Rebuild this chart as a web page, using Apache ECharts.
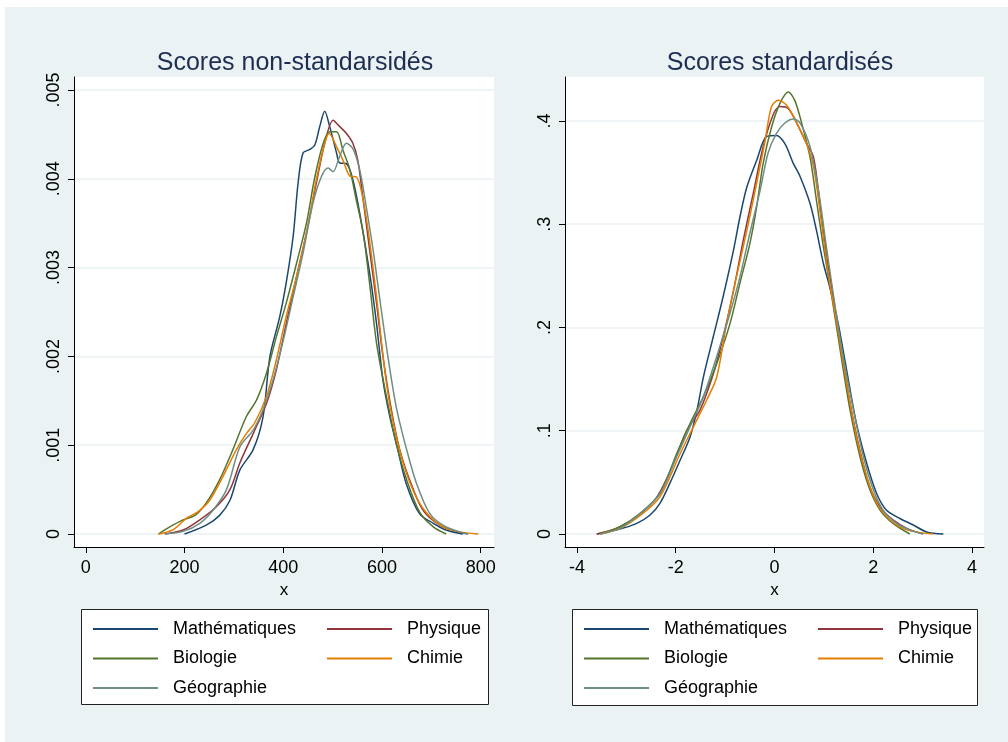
<!DOCTYPE html>
<html>
<head>
<meta charset="utf-8">
<script src="https://cdn.jsdelivr.net/npm/echarts@6/dist/echarts.min.js"></script>
<style>
html, body { margin: 0; padding: 0; }
#chart { width: 1008px; height: 742px; }
</style>
</head>
<body>
<div id="chart"></div>
<script>
(function(){
    var names = ['Mathématiques', 'Physique', 'Biologie', 'Chimie', 'Géographie'];
    var colors = ['#1a476f', '#90353b', '#55752f', '#e37e00', '#6e8e84'];

    // scores bruts (densité)
    var rawMath = [[200,0],[244,0.0001],[271,0.00021],[292,0.00038],[312,0.00072],[339,0.00095],[359,0.00132],[373,0.002],[393,0.00245],[406,0.00283],[420,0.00335],[430,0.00395],[440,0.00429],[454,0.00433],[464,0.00438],[474,0.00459],[484,0.00476],[494,0.00459],[508,0.00429],[514,0.00418],[528,0.00417],[541,0.00399],[555,0.00361],[575,0.00294],[589,0.00237],[602,0.00173],[616,0.00132],[632,0.00095],[649,0.00057],[676,0.00023],[704,0.00012],[730,0.000045],[764,0]];
    var rawPhys = [[160,0],[197,0.000045],[231,0.00016],[265,0.00031],[292,0.0005],[312,0.0008],[339,0.00113],[366,0.00147],[386,0.00185],[406,0.00237],[427,0.0029],[447,0.00339],[467,0.00395],[484,0.0044],[501,0.00466],[514,0.00459],[528,0.00451],[541,0.0044],[551,0.00421],[562,0.00376],[575,0.0032],[589,0.0026],[602,0.002],[619,0.0014],[636,0.00095],[656,0.00061],[683,0.00027],[717,0.0001],[751,0.00003],[774,0]];
    var rawBio = [[147,0],[170,0.00008],[197,0.00016],[221,0.00021],[244,0.00035],[271,0.00061],[298,0.00095],[325,0.00132],[346,0.00151],[366,0.00181],[386,0.00222],[406,0.0026],[427,0.00305],[447,0.0035],[464,0.00402],[481,0.0044],[494,0.00453],[508,0.00453],[521,0.00432],[535,0.0041],[548,0.00376],[562,0.00339],[575,0.00282],[589,0.00215],[609,0.00155],[629,0.00102],[650,0.00061],[676,0.00025],[704,0.00008],[730,0]];
    var rawChim = [[147,0],[177,0.00005],[204,0.00018],[227,0.00025],[251,0.00038],[278,0.00065],[305,0.00095],[325,0.00113],[342,0.00125],[366,0.00155],[386,0.00196],[406,0.00245],[427,0.0029],[447,0.00339],[467,0.00399],[484,0.0044],[493,0.00451],[508,0.00436],[521,0.00421],[535,0.00403],[548,0.00402],[558,0.00387],[572,0.00342],[589,0.00267],[609,0.0017],[629,0.0011],[650,0.00068],[676,0.00035],[704,0.00016],[737,0.00005],[795,0]];
    var rawGeo = [[160,0],[197,0.00003],[231,0.00012],[258,0.00027],[285,0.0005],[312,0.00098],[339,0.00117],[359,0.0014],[379,0.00173],[400,0.00218],[420,0.00267],[440,0.00316],[460,0.00372],[477,0.00402],[491,0.00412],[501,0.00408],[514,0.00425],[528,0.0044],[541,0.00434],[555,0.0041],[568,0.00369],[582,0.0032],[595,0.00267],[612,0.002],[629,0.00143],[650,0.00095],[670,0.00057],[697,0.00023],[730,0.00008],[774,0]];

    // scores standardisés (densité)
    var stdMath = [[-3.6,0],[-3.19,0.004],[-2.79,0.0103],[-2.52,0.0184],[-2.32,0.0297],[-2.12,0.049],[-1.91,0.0716],[-1.71,0.094],[-1.57,0.12],[-1.44,0.152],[-1.24,0.191],[-1.04,0.23],[-0.83,0.275],[-0.7,0.307],[-0.56,0.336],[-0.36,0.362],[-0.16,0.385],[0.04,0.386],[0.21,0.378],[0.38,0.359],[0.52,0.346],[0.72,0.32],[0.85,0.294],[0.99,0.262],[1.12,0.239],[1.29,0.204],[1.46,0.159],[1.66,0.107],[1.87,0.068],[2.07,0.039],[2.27,0.023],[2.54,0.015],[2.81,0.0087],[3.08,0.002],[3.42,0]];
    var stdPhys = [[-3.6,0],[-3.19,0.0055],[-2.79,0.0168],[-2.38,0.036],[-2.05,0.068],[-1.78,0.1],[-1.51,0.12],[-1.24,0.155],[-1.04,0.191],[-0.83,0.236],[-0.63,0.285],[-0.43,0.33],[-0.23,0.375],[-0.02,0.407],[0.11,0.414],[0.28,0.412],[0.45,0.398],[0.65,0.378],[0.79,0.365],[0.92,0.32],[1.06,0.268],[1.19,0.23],[1.33,0.185],[1.53,0.127],[1.73,0.081],[1.93,0.046],[2.14,0.026],[2.4,0.0136],[2.68,0.0055],[3.01,0]];
    var stdBio = [[-3.53,0],[-3.13,0.007],[-2.72,0.02],[-2.32,0.039],[-1.98,0.078],[-1.71,0.107],[-1.44,0.133],[-1.17,0.165],[-0.9,0.204],[-0.7,0.243],[-0.5,0.281],[-0.36,0.317],[-0.23,0.359],[-0.06,0.394],[0.11,0.417],[0.28,0.428],[0.41,0.42],[0.55,0.398],[0.72,0.365],[0.85,0.323],[0.99,0.278],[1.16,0.23],[1.33,0.178],[1.53,0.12],[1.73,0.075],[1.93,0.043],[2.14,0.023],[2.4,0.0103],[2.74,0]];
    var stdChim = [[-3.53,0],[-3.13,0.0055],[-2.72,0.018],[-2.32,0.036],[-1.91,0.078],[-1.64,0.104],[-1.37,0.13],[-1.17,0.152],[-0.97,0.204],[-0.77,0.249],[-0.56,0.294],[-0.36,0.34],[-0.19,0.381],[-0.06,0.414],[0.08,0.42],[0.25,0.415],[0.45,0.398],[0.65,0.378],[0.79,0.356],[0.92,0.313],[1.09,0.252],[1.26,0.204],[1.46,0.146],[1.66,0.094],[1.87,0.055],[2.07,0.03],[2.34,0.0136],[2.68,0.004],[3.21,0]];
    var stdGeo = [[-3.53,0],[-3.13,0.0055],[-2.72,0.02],[-2.32,0.039],[-1.98,0.075],[-1.71,0.104],[-1.44,0.133],[-1.17,0.172],[-0.9,0.214],[-0.7,0.249],[-0.5,0.291],[-0.29,0.333],[-0.13,0.369],[0.04,0.388],[0.21,0.398],[0.38,0.402],[0.52,0.398],[0.72,0.375],[0.89,0.333],[1.06,0.275],[1.22,0.223],[1.39,0.172],[1.6,0.12],[1.8,0.075],[2.0,0.043],[2.2,0.023],[2.47,0.0103],[2.74,0.004],[3.01,0]];

    var rawXTicks = [0, 200, 400, 600, 800];
    var rawYTicks = [0, 0.001, 0.002, 0.003, 0.004, 0.005];
    var stdXTicks = [-4, -2, 0, 2, 4];
    var stdYTicks = [0, 0.1, 0.2, 0.3, 0.4];

    var rawData = [rawMath, rawPhys, rawBio, rawChim, rawGeo];
    var stdData = [stdMath, stdPhys, stdBio, stdChim, stdGeo];

    var font = 'Liberation Sans, Arial, sans-serif';
    var gridBg = '#eaf2f3';

    function noZero(v){
        if (v === 0) return '0';
        return String(v).replace(/^(-?)0\./, '$1.');
    }

    function xAxisOf(idx, min, max, ticks){
        return {
            type: 'value', gridIndex: idx, min: min, max: max,
            name: 'x', nameLocation: 'middle', nameGap: 32,
            nameTextStyle: { color: '#000', fontSize: 17, fontFamily: font },
            axisLine: { show: true, onZero: false, lineStyle: { color: '#000', width: 1 } },
            axisTick: { show: true, length: 6, customValues: ticks, lineStyle: { color: '#000' } },
            axisLabel: { customValues: ticks, color: '#000', fontSize: 18, fontFamily: font, margin: 12 },
            splitLine: { show: false }
        };
    }
    function yAxisOf(idx, min, max, ticks){
        return {
            type: 'value', gridIndex: idx, min: min, max: max,
            axisLine: { show: true, onZero: false, lineStyle: { color: '#000', width: 1 } },
            axisTick: { show: true, length: 6, customValues: ticks, lineStyle: { color: '#000' } },
            axisLabel: { customValues: ticks, rotate: 90, color: '#000', fontSize: 18, fontFamily: font, margin: 11,
                formatter: noZero },
            splitLine: { show: true, lineStyle: { color: gridBg, width: 1.5 } }
        };
    }

    var series = [];
    names.forEach(function(n, i){
        series.push({ name: n, type: 'line', xAxisIndex: 0, yAxisIndex: 0, data: rawData[i],
            showSymbol: false, smooth: 0.3, lineStyle: { color: colors[i], width: 1.5 }, itemStyle: { color: colors[i] } });
    });
    names.forEach(function(n, i){
        series.push({ name: n, type: 'line', xAxisIndex: 1, yAxisIndex: 1, data: stdData[i],
            showSymbol: false, smooth: 0.3, lineStyle: { color: colors[i], width: 1.5 }, itemStyle: { color: colors[i] } });
    });

    function legendOf(left, top, items, pad){
        return {
            orient: 'vertical', left: left, top: top, data: items, z: 10,
            icon: 'rect', itemWidth: 65, itemHeight: 2, itemGap: 9.5,
            selectedMode: false,
            textStyle: { color: '#000', fontSize: 18, fontFamily: font, lineHeight: 20, padding: [0, 0, 0, pad] }
        };
    }

    var option = {
        backgroundColor: gridBg,
        animation: false,
        color: colors,
        title: [
            { text: 'Scores non-standarsidés', left: 290, top: 46, textAlign: 'center',
              textStyle: { color: '#1e2d52', fontSize: 25, fontWeight: 'normal', fontFamily: font } },
            { text: 'Scores standardisés', left: 775, top: 46, textAlign: 'center',
              textStyle: { color: '#1e2d52', fontSize: 25, fontWeight: 'normal', fontFamily: font } }
        ],
        grid: [
            { left: 74, top: 77, width: 420, height: 470, show: true, backgroundColor: '#fff', borderWidth: 0 },
            { left: 565, top: 77, width: 419, height: 470, show: true, backgroundColor: '#fff', borderWidth: 0 }
        ],
        xAxis: [
            xAxisOf(0, -24, 827, rawXTicks),
            xAxisOf(1, -4.243, 4.243, stdXTicks)
        ],
        yAxis: [
            yAxisOf(0, -0.000146, 0.005146, rawYTicks),
            yAxisOf(1, -0.0126, 0.4426, stdYTicks)
        ],
        legend: [
            legendOf(88, 614, [names[0], names[2], names[4]], 10),
            legendOf(322, 614, [names[1], names[3]], 10),
            legendOf(579, 614, [names[0], names[2], names[4]], 10),
            legendOf(813, 614, [names[1], names[3]], 10)
        ],
        graphic: [
            { type: 'rect', left: 0, top: 0, shape: { width: 1008, height: 7 }, style: { fill: '#fff' }, silent: true },
            { type: 'rect', left: 0, top: 0, shape: { width: 5, height: 742 }, style: { fill: '#fff' }, silent: true },
            { type: 'rect', z: 1, shape: { x: 81.5, y: 609.5, width: 407, height: 95 }, style: { fill: '#fff', stroke: '#222', lineWidth: 1 }, silent: true },
            { type: 'rect', z: 1, shape: { x: 572.5, y: 609.5, width: 405, height: 96 }, style: { fill: '#fff', stroke: '#222', lineWidth: 1 }, silent: true }
        ],
        series: series
    };

    var chart = echarts.init(document.getElementById('chart'));
    chart.setOption(option);
})();
</script>
</body>
</html>
